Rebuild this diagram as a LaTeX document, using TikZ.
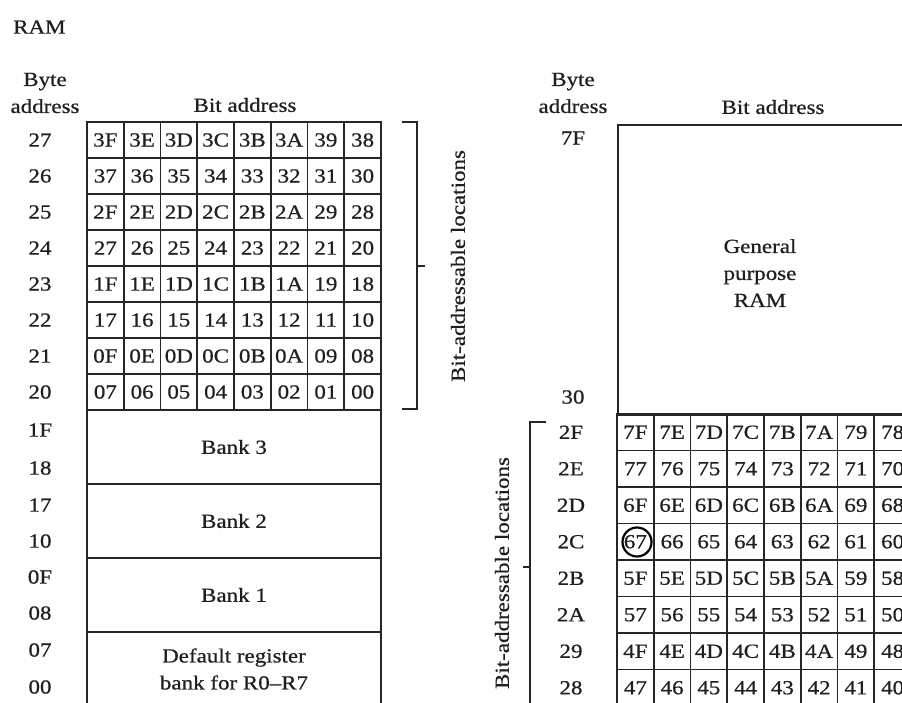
\documentclass[tikz,border=0pt]{standalone}
\usepackage{fontspec}
\setmainfont{Liberation Serif}[FakeStretch=1.15,FakeBold=0.6]
\begin{document}
\begin{tikzpicture}[x=1pt,y=-1pt,
  every node/.style={font=\fontsize{20}{27}\selectfont, text=black!88},
  ln/.style={line width=1.8pt, draw=black!85},
  cell/.style={ln, draw, minimum width=36.75pt, minimum height=36pt, inner sep=0pt},
  rcell/.style={ln, draw, minimum width=36.75pt, minimum height=36.5pt, inner sep=0pt},
  bank/.style={ln, draw, minimum width=294pt, minimum height=74pt, inner sep=0pt, align=center},
  lbl/.style={inner sep=0pt, align=center}]
\useasboundingbox (0,0) rectangle (902,702);
\fill[white] (0,0) rectangle (902,702);
\begin{scope}
\clip (0,0) rectangle (902,702);

% titles
\node[lbl, anchor=west] (ram) at (13,27) {RAM};
\node[lbl] (lbyte) at (45,93) {Byte\\address};
\node[lbl] (lbit) at (245,105) {Bit address};
\node[lbl] (rbyte) at (573,93) {Byte\\address};
\node[lbl] (rbit) at (773,107) {Bit address};

% left grid
\foreach \r/\vals in {
  0/{3F,3E,3D,3C,3B,3A,39,38},
  1/{37,36,35,34,33,32,31,30},
  2/{2F,2E,2D,2C,2B,2A,29,28},
  3/{27,26,25,24,23,22,21,20},
  4/{1F,1E,1D,1C,1B,1A,19,18},
  5/{17,16,15,14,13,12,11,10},
  6/{0F,0E,0D,0C,0B,0A,09,08},
  7/{07,06,05,04,03,02,01,00}} {
  \foreach [count=\c from 0] \v in \vals {
    \node[cell] (L-\r-\c) at ({87+36.75*(\c+0.5)},{140+36*\r}) {\v};
  }
}
\foreach [count=\r from 0] \b in {27,26,25,24,23,22,21,20} {
  \node[lbl] (LB-\r) at (40,{140+36*\r}) {\b};
}

% banks
\node[bank] (bank3) at (234,447) {Bank 3};
\node[bank] (bank2) at (234,521) {Bank 2};
\node[bank] (bank1) at (234,595) {Bank 1};
\node[bank] (bank0) at (234,669) {Default register\\bank for R0--R7};
\foreach \t/\y [count=\i] in {1F/430,18/468,17/505,10/541,0F/577,08/613,07/650,00/687} {
  \node[lbl] (LA-\i) at (40,\y) {\t};
}

% left brace
\coordinate (lbt) at (403,122);
\coordinate (lbtc) at (417,122);
\coordinate (lbbc) at (417,409);
\coordinate (lbb) at (403,409);
\coordinate (lbm) at (417,266);
\coordinate (lbmt) at (425,266);
\draw[ln, line cap=rect] (lbt) -- (lbtc) -- (lbbc) -- (lbb);
\draw[ln] (lbm) -- (lbmt);
\node[lbl, rotate=90] (lbal) at (458,266) {Bit-addressable locations};

% right general purpose box
\node[ln, draw, minimum width=300pt, minimum height=290pt, anchor=north west, inner sep=0pt] (gp) at (617,124) {};
\node[lbl] (gptext) at (760,273) {General\\purpose\\RAM};
\node[lbl] (R7F) at (573,138) {7F};
\node[lbl] (R30) at (573,397) {30};

% right grid
\foreach \r/\vals in {
  0/{7F,7E,7D,7C,7B,7A,79,78},
  1/{77,76,75,74,73,72,71,70},
  2/{6F,6E,6D,6C,6B,6A,69,68},
  3/{67,66,65,64,63,62,61,60},
  4/{5F,5E,5D,5C,5B,5A,59,58},
  5/{57,56,55,54,53,52,51,50},
  6/{4F,4E,4D,4C,4B,4A,49,48},
  7/{47,46,45,44,43,42,41,40}} {
  \foreach [count=\c from 0] \v in \vals {
    \node[rcell] (R-\r-\c) at ({617+36.75*(\c+0.5)},{432.25+36.5*\r}) {\v};
  }
}
\foreach [count=\r from 0] \b in {2F,2E,2D,2C,2B,2A,29,28} {
  \node[lbl] (RB-\r) at (571,{432.25+36.5*\r}) {\b};
}
\node[circle, draw, line width=2.2pt, minimum size=29pt, inner sep=0pt] (circ) at (637,542) {};

% right brace
\coordinate (rbt) at (545,422);
\coordinate (rbtc) at (530,422);
\coordinate (rbbc) at (530,710);
\coordinate (rbm) at (530,567);
\coordinate (rbmt) at (523,567);
\draw[ln, line cap=rect] (rbt) -- (rbtc) -- (rbbc);
\draw[ln] (rbm) -- (rbmt);
\node[lbl, rotate=90] (rbal) at (502,573) {Bit-addressable locations};
\end{scope}
\end{tikzpicture}
\end{document}
